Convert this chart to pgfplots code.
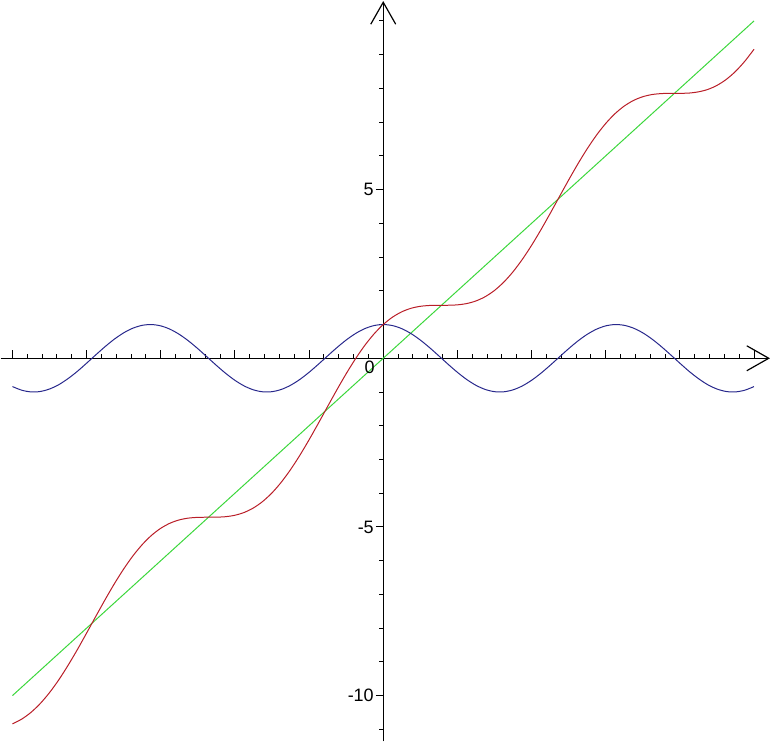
\documentclass[border=0pt]{standalone}
\usepackage{pgfplots}
\pgfplotsset{compat=1.18}
\usepackage{pgfplotstable}
\usepackage{fontspec}
\setmainfont{Liberation Sans}
\usetikzlibrary{arrows.meta}

\definecolor{cblue}{RGB}{40,40,140}
\definecolor{cred}{RGB}{185,30,40}
\definecolor{cgreen}{RGB}{60,215,60}

% x, cos(x), x+cos(x)
\pgfplotstableread{
x      c        r
-10    -0.8391  -10.8391
-9.75  -0.9469  -10.6969
-9.5   -0.9972  -10.4972
-9.25  -0.9847  -10.2347
-9     -0.9111  -9.9111
-8.75  -0.7822  -9.5322
-8.5   -0.6020  -9.1020
-8.25  -0.3878  -8.6378
-8     -0.1455  -8.1455
-7.75   0.1036  -7.6464
-7.5    0.3466  -7.1534
-7.25   0.5683  -6.6817
-7      0.7539  -6.2461
-6.75   0.8930  -5.8570
-6.5    0.9766  -5.5234
-6.25   0.9999  -5.2501
-6      0.9602  -5.0398
-5.75   0.8612  -4.8888
-5.5    0.7087  -4.7913
-5.25   0.5124  -4.7376
-5      0.2837  -4.7163
-4.75   0.0376  -4.7124
-4.5   -0.2108  -4.7108
-4.25  -0.4461  -4.6961
-4     -0.6536  -4.6536
-3.75  -0.8206  -4.5706
-3.5   -0.9365  -4.4365
-3.25  -0.9941  -4.2441
-3     -0.9900  -3.9900
-2.75  -0.9243  -3.6743
-2.5   -0.8011  -3.3011
-2.25  -0.6282  -2.8782
-2     -0.4161  -2.4161
-1.75  -0.1782  -1.9282
-1.5    0.0707  -1.4293
-1.25   0.3153  -0.9347
-1      0.5403  -0.4597
-0.75   0.7317  -0.0183
-0.5    0.8776   0.3776
-0.25   0.9689   0.7189
0       1.0000   1.0000
0.25    0.9689   1.2189
0.5     0.8776   1.3776
0.75    0.7317   1.4817
1       0.5403   1.5403
1.25    0.3153   1.5653
1.5     0.0707   1.5707
1.75   -0.1782   1.5718
2      -0.4161   1.5839
2.25   -0.6282   1.6218
2.5    -0.8011   1.6989
2.75   -0.9243   1.8257
3      -0.9900   2.0100
3.25   -0.9941   2.2559
3.5    -0.9365   2.5635
3.75   -0.8206   2.9294
4      -0.6536   3.3464
4.25   -0.4461   3.8039
4.5    -0.2108   4.2892
4.75    0.0376   4.7876
5       0.2837   5.2837
5.25    0.5124   5.7624
5.5     0.7087   6.2087
5.75    0.8612   6.6112
6       0.9602   6.9602
6.25    0.9999   7.2499
6.5     0.9766   7.4766
6.75    0.8930   7.6430
7       0.7539   7.7539
7.25    0.5683   7.8183
7.5     0.3466   7.8466
7.75    0.1036   7.8536
8      -0.1455   7.8545
8.25   -0.3878   7.8622
8.5    -0.6020   7.8980
8.75   -0.7822   7.9678
9      -0.9111   8.0889
9.25   -0.9847   8.2653
9.5    -0.9972   8.5028
9.75   -0.9469   8.8031
10     -0.8391   9.1609
}\curves

\begin{document}
\begin{tikzpicture}
\begin{axis}[
  scale only axis,
  width=771pt, height=742pt,
  xmin=-10.32, xmax=10.43,
  ymin=-11.36, ymax=10.59,
  axis lines=middle,
  axis line style={black, line width=1.2pt, -{Straight Barb[length=22pt,width=25pt,line width=1.2pt]}},
  xtick={-10,-8,...,10},
  minor x tick num=4,
  xticklabels={},
  ytick={-10,-5,5},
  yticklabels={-10,-5,5},
  minor ytick={-11,...,10},
  tick align=center,
  major tick length=8pt,
  minor tick length=4pt,
  tick style={black, line width=1pt},
  major x tick style={yshift=4pt},
  minor x tick style={yshift=2pt},
  major y tick style={xshift=-3.5pt},
  minor y tick style={xshift=-2pt},
  tick label style={font=\fontsize{18}{20}\selectfont},
  yticklabel style={xshift=-2pt},
  clip=false,
]
  \addplot[cgreen, line width=1pt] coordinates {(-10,-10) (10,10)};
  \addplot[cblue, line width=1pt, smooth] table[x=x, y=c] {\curves};
  \addplot[cred, line width=1pt, smooth] table[x=x, y=r] {\curves};
  \node[anchor=north east, font=\fontsize{18}{20}\selectfont, inner sep=1pt] at (axis cs:-0.2,-0.05) {0};
\end{axis}
\end{tikzpicture}
\end{document}
